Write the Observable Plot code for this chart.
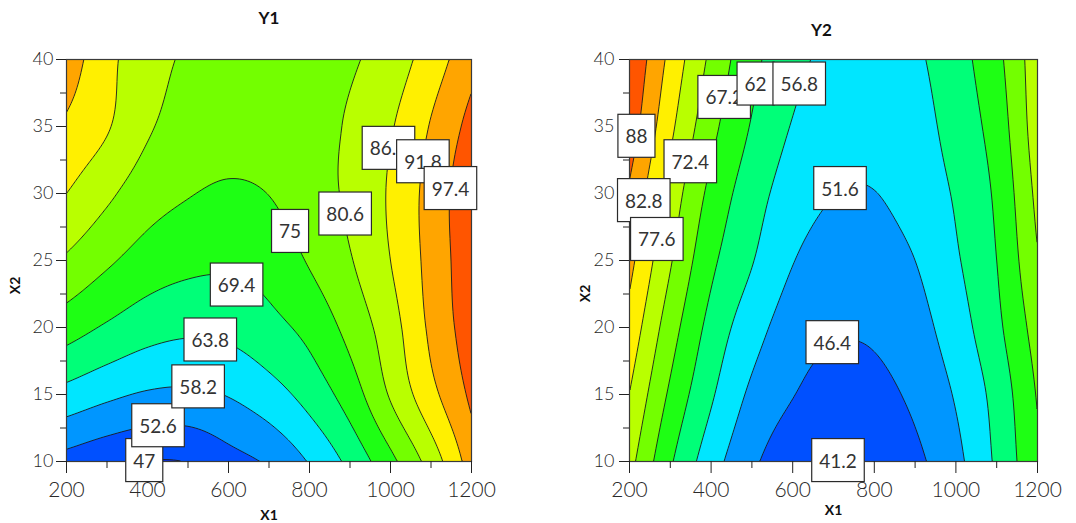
<!DOCTYPE html>
<html><head><meta charset="utf-8">
<script src="https://cdn.jsdelivr.net/npm/d3@7"></script>
<script src="https://cdn.jsdelivr.net/npm/@observablehq/plot@0.6"></script>
<style>
body{margin:0;background:#fff;}
#wrap{position:relative;width:1076px;height:523px;overflow:hidden;background:#fff}
#left,#right{position:absolute;top:0}
#left{left:0} #right{left:538px}
svg{overflow:visible}
</style></head><body><div id="wrap"><div id="left"></div><div id="right"></div></div>
<script>
// Grid coordinates (X1 columns, X2 rows)
const x1Values = [200, 300, 400, 500, 600, 700, 800, 900, 1000, 1100, 1200];
const x2Values = [10, 15, 20, 25, 30, 35, 40];

// Y1 response (rows: X2 = 10..40, cols: X1 = 200..1200)
const y1Row10 = [50.5, 48.3, 46.8, 47.2, 50.5, 53.4, 58.6, 65.3, 73.5, 83.0, 94.5];
const y1Row15 = [61.9, 59.4, 57.6, 57.2, 58.5, 61.5, 65.9, 72.1, 81.2, 90.1, 98.5];
const y1Row20 = [71.9, 68.7, 66.1, 64.9, 65.3, 67.7, 71.1, 76.8, 83.8, 92.9, 100.5];
const y1Row25 = [79.8, 75.9, 72.6, 70.9, 70.4, 71.6, 75.5, 80.2, 86.2, 93.7, 101.2];
const y1Row30 = [86.2, 81.7, 77.5, 75.3, 74.3, 75.1, 78.3, 81.6, 86.9, 93.9, 101.5];
const y1Row35 = [90.9, 86.7, 81.3, 78.3, 77.0, 77.5, 79.0, 81.2, 85.7, 92.2, 99.2];
const y1Row40 = [95.0, 87.8, 82.9, 79.8, 78.3, 78.3, 79.3, 80.0, 83.2, 88.9, 95.5];

// Y2 response
const y2Row10 = [74.1, 62.7, 53.9, 47.4, 43.1, 41.0, 42.0, 45.2, 50.2, 57.7, 66.5];
const y2Row15 = [77.5, 66.3, 57.5, 50.6, 46.6, 44.2, 44.9, 47.5, 52.1, 58.7, 67.6];
const y2Row20 = [81.0, 69.6, 60.3, 53.8, 49.1, 47.1, 47.2, 49.6, 54.4, 60.8, 69.5];
const y2Row25 = [84.3, 72.9, 63.2, 57.1, 51.8, 49.4, 49.4, 51.6, 56.2, 62.0, 72.0];
const y2Row30 = [87.3, 75.6, 65.8, 59.2, 54.3, 51.7, 51.5, 53.7, 57.4, 63.0, 73.7];
const y2Row35 = [90.9, 78.8, 68.8, 61.6, 56.5, 53.7, 53.3, 54.8, 58.9, 64.4, 75.2];
const y2Row40 = [93.0, 81.4, 71.3, 63.5, 58.4, 55.4, 54.8, 56.0, 60.0, 65.8, 75.6];

const y1Levels = [47, 52.6, 58.2, 63.8, 69.4, 75, 80.6, 86.2, 91.8, 97.4];
const y2Levels = [41.2, 46.4, 51.6, 56.8, 62, 67.2, 72.4, 77.6, 82.8, 88];
const bandColors = ["#0a2ee0", "#0050ff", "#0096ff", "#00e6ff", "#00ff78", "#1eff14", "#73ff00", "#b9ff00", "#fff000", "#ffa500", "#ff5500"];

const y1LabelText = ["47", "52.6", "58.2", "63.8", "69.4", "75", "80.6", "86.2", "91.8", "97.4"];
const y1LabelX1 = [392, 426, 525, 555, 620, 752, 888, 995, 1080, 1148];
const y1LabelX2 = [10, 12.6, 15.5, 19.0, 23.1, 27.1, 28.4, 33.3, 32.3, 30.3];

const y2LabelText = ["88", "72.4", "82.8", "77.6", "67.2", "62", "56.8", "51.6", "46.4", "41.2"];
const y2LabelX1 = [217, 349, 235, 267, 432, 509, 616, 716, 697, 711];
const y2LabelX2 = [34.2, 32.3, 29.4, 26.5, 37.1, 38.1, 38.1, 30.3, 18.8, 10];

const majorY = [10, 15, 20, 25, 30, 35, 40];
const minorY = [12.5, 17.5, 22.5, 27.5, 32.5, 37.5];
const majorX = [200, 400, 600, 800, 1000, 1200];
const minorX = [300, 500, 700, 900, 1100];

function surface(grid) {
  const nx = x1Values.length, ny = x2Values.length;
  const get = (j, i) => {
    if (j < 0) return 2 * get(0, i) - get(1, i);
    if (j >= ny) return 2 * get(ny - 1, i) - get(ny - 2, i);
    if (i < 0) return 2 * grid[j][0] - grid[j][1];
    if (i >= nx) return 2 * grid[j][nx - 1] - grid[j][nx - 2];
    return grid[j][i];
  };
  const cr = (p0, p1, p2, p3, t) => 0.5 * (2 * p1 + (-p0 + p2) * t + (2 * p0 - 5 * p1 + 4 * p2 - p3) * t * t + (-p0 + 3 * p1 - 3 * p2 + p3) * t * t * t);
  const dx = x1Values[1] - x1Values[0], dy = x2Values[1] - x2Values[0];
  return (x, y) => {
    const fx = (x - x1Values[0]) / dx, fy = (y - x2Values[0]) / dy;
    const i = Math.min(nx - 2, Math.max(0, Math.floor(fx)));
    const j = Math.min(ny - 2, Math.max(0, Math.floor(fy)));
    const tx = fx - i, ty = fy - j;
    const r = [-1, 0, 1, 2].map(d => cr(get(j + d, i - 1), get(j + d, i), get(j + d, i + 1), get(j + d, i + 2), tx));
    return cr(r[0], r[1], r[2], r[3], ty);
  };
}

function makeChart(el, o) {
  const labels = o.text.map((t, k) => ({text: t, x: o.lx[k], y: o.ly[k]}));
  const f = surface(o.grid);
  const svg = Plot.plot({
    width: 538, height: 523,
    marginLeft: o.marginLeft, marginRight: o.marginRight, marginTop: 59, marginBottom: 62,
    x: {domain: [200, 1200]},
    y: {domain: [10, 40]},
    color: {type: "threshold", domain: o.levels, range: bandColors},
    style: {fontFamily: "Lato, 'DejaVu Sans', sans-serif", color: "#2a2a2a", background: "white", overflow: "visible"},
    marks: [
      Plot.contour({fill: f, x1: 200, x2: 1200, y1: 10, y2: 40, thresholds: [0, ...o.levels], stroke: "#1c1c1c", strokeWidth: 0.9, pixelSize: 1}),
      Plot.frame({stroke: "#3a3a3a", strokeWidth: 1.2}),
      Plot.axisY({ticks: majorY, tickSize: 10, tickPadding: o.yPad, fontSize: 18, fontWeight: 300, label: null, stroke: "#222"}),
      Plot.axisY({ticks: minorY, tickSize: 6, tickFormat: () => "", label: null, stroke: "#222"}),
      Plot.axisX({ticks: majorX, tickSize: 12, tickPadding: 9, fontSize: 21, fontWeight: 300, tickFormat: d => String(d), label: null, stroke: "#222"}),
      Plot.axisX({ticks: minorX, tickSize: 7, tickFormat: () => "", label: null, stroke: "#222"}),
      Plot.text(labels, {x: "x", y: "y", text: "text", fontSize: 19, fontWeight: 400, fill: "#333"}),
      Plot.text([o.title], {frameAnchor: "top", lineAnchor: "middle", dx: o.titleDx, dy: o.titleDy, fontWeight: "bold", fontSize: 17, fill: "#111"}),
      Plot.text(["X1"], {frameAnchor: "bottom", lineAnchor: "middle", dy: o.xlabDy, fontWeight: "bold", fontSize: 14, fill: "#111"}),
      Plot.text(["X2"], {frameAnchor: "left", textAnchor: "middle", lineAnchor: "middle", rotate: -90, dx: o.ylabDx, dy: o.ylabDy, fontWeight: "bold", fontSize: 14, fill: "#111"})
    ]
  });
  el.appendChild(svg);
  const groups = [...svg.querySelectorAll("g")].filter(gg => {
    const ts = [...gg.children].filter(c => c.tagName.toLowerCase() === "text");
    return ts.length === labels.length && ts[0].textContent === labels[0].text;
  });
  const g = groups[0];
  if (g) {
    for (const t of [...g.children].filter(c => c.tagName.toLowerCase() === "text")) {
      const b = t.getBBox();
      const w = b.width + 15, h = 43;
      const r = document.createElementNS("http://www.w3.org/2000/svg", "rect");
      r.setAttribute("x", b.x + b.width / 2 - w / 2);
      r.setAttribute("y", b.y + b.height / 2 - h / 2);
      r.setAttribute("width", w);
      r.setAttribute("height", h);
      r.setAttribute("fill", "white");
      r.setAttribute("stroke", "#2a2a2a");
      r.setAttribute("stroke-width", "1.2");
      if (t.getAttribute("transform")) r.setAttribute("transform", t.getAttribute("transform"));
      g.insertBefore(r, t);
    }
  }
}

makeChart(document.getElementById("left"), {
  grid: [y1Row10, y1Row15, y1Row20, y1Row25, y1Row30, y1Row35, y1Row40],
  levels: y1Levels, text: y1LabelText, lx: y1LabelX1, ly: y1LabelX2,
  title: "Y1", titleDx: 0, titleDy: -41, xlabDy: 54, ylabDx: -51, ylabDy: 25,
  marginLeft: 66, marginRight: 67, yPad: 3
});
makeChart(document.getElementById("right"), {
  grid: [y2Row10, y2Row15, y2Row20, y2Row25, y2Row30, y2Row35, y2Row40],
  levels: y2Levels, text: y2LabelText, lx: y2LabelX1, ly: y2LabelX2,
  title: "Y2", titleDx: -12, titleDy: -29, xlabDy: 49, ylabDx: -44, ylabDy: 33,
  marginLeft: 91, marginRight: 39, yPad: 5
});
</script>
</body></html>
